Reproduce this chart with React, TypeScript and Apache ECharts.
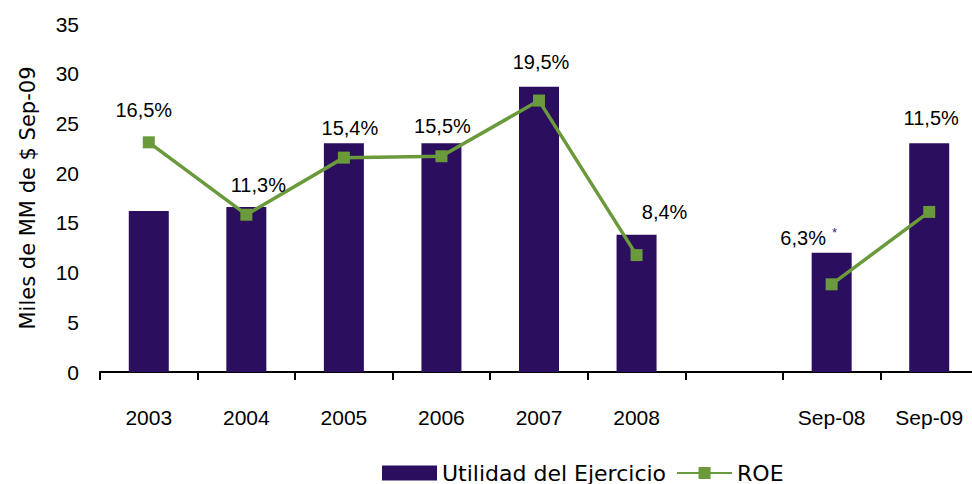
import React, { useEffect, useRef } from "react";
import * as echarts from "echarts";

const categories = ["2003", "2004", "2005", "2006", "2007", "2008", "", "Sep-08", "Sep-09"];
const utilidad = [16.2, 16.6, 23.0, 23.0, 28.7, 13.8, null, 12.0, 23.0];
const roe = [16.5, 11.3, 15.4, 15.5, 19.5, 8.4, null, 6.3, 11.5];
const roeNotes = ["", "", "", "", "", "", "", "*", ""];
const yTicks = [0, 5, 10, 15, 20, 25, 30, 35];

// label placement (styling, not data)
const labelOffsets: number[][] = [
  [-5, -32], [12, -30], [6, -30], [1, -30], [2, -39], [28, -43], [0, 0], [-23, -46], [2, -94],
];

const BAR = "#2C0E5F";
const GREEN = "#6A9A3B";
const NUM_FONT = "Liberation Sans";
const TXT_FONT = "DejaVu Sans";

export default function App() {
  const ref = useRef<HTMLDivElement>(null);
  useEffect(() => {
    if (!ref.current) return;
    const chart = echarts.init(ref.current, null, { renderer: "svg" });
    const fmt = (v: number) => v.toFixed(1).replace(".", ",") + "%";
    const roeData = roe.map((v, i) =>
      v == null
        ? null
        : {
            value: v,
            label: {
              show: true,
              position: "inside",
              offset: labelOffsets[i],
              formatter: roeNotes[i] ? fmt(v) + "{s|" + roeNotes[i] + "}" : fmt(v),
            },
          }
    );
    chart.setOption({
      animation: false,
      backgroundColor: "#ffffff",
      grid: { left: 100, top: 24, width: 878, height: 348, containLabel: false, outerBoundsMode: "none" },
      legend: {
        left: 377,
        top: 457,
        itemWidth: 55,
        itemHeight: 15,
        itemGap: 10,
        textStyle: { fontFamily: TXT_FONT, fontSize: 22, color: "#000" },
        data: [
          { name: "Utilidad del Ejercicio", icon: "rect" },
          { name: "ROE" },
        ],
      },
      xAxis: {
        type: "category",
        data: categories,
        boundaryGap: true,
        axisLine: { show: true, lineStyle: { color: "#000", width: 2 } },
        axisTick: { show: true, length: 8, lineStyle: { color: "#000", width: 2 } },
        axisLabel: { margin: 35, fontFamily: NUM_FONT, fontSize: 21, color: "#000", interval: 0 },
      },
      yAxis: [
        {
          type: "value",
          min: 0,
          max: yTicks[yTicks.length - 1],
          interval: 5,
          axisLine: { show: false },
          axisTick: { show: false },
          splitLine: { show: false },
          axisLabel: { margin: 21, fontFamily: NUM_FONT, fontSize: 21, color: "#000" },
          name: "Miles de MM de $ Sep-09",
          nameLocation: "middle",
          nameRotate: 90,
          nameGap: 62,
          nameTextStyle: { fontFamily: TXT_FONT, fontSize: 21, color: "#000" },
        },
        {
          type: "value",
          min: 0,
          max: 25,
          show: false,
          splitLine: { show: false },
        },
      ],
      series: [
        {
          name: "Utilidad del Ejercicio",
          type: "bar",
          yAxisIndex: 0,
          barWidth: 40,
          itemStyle: { color: BAR },
          data: utilidad,
        },
        {
          name: "ROE",
          type: "line",
          yAxisIndex: 1,
          symbol: "rect",
          symbolSize: 12,
          connectNulls: false,
          lineStyle: { color: GREEN, width: 3.5 },
          itemStyle: { color: GREEN },
          label: {
            fontFamily: NUM_FONT,
            fontSize: 20,
            color: "#000",
            rich: {
              s: {
                fontSize: 13,
                color: "#2B2A8C",
                verticalAlign: "top",
                padding: [0, 0, 12, 6],
              },
            },
          },
          data: roeData,
        },
      ],
    });
    return () => chart.dispose();
  }, []);
  return (
    <div
      ref={ref}
      style={{ position: "absolute", left: 0, top: 0, width: 972, height: 484 }}
    />
  );
}
